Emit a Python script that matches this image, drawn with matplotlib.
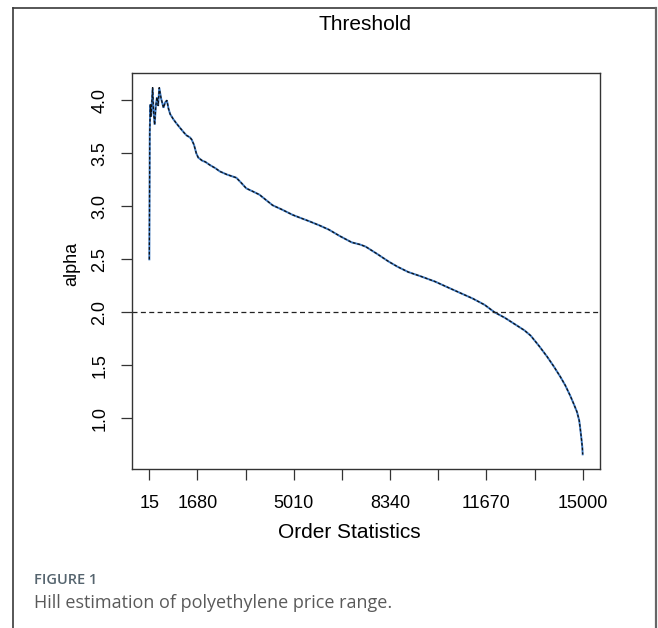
"""Hill plot (alpha vs order statistics) for the polyethylene price range."""

import matplotlib

matplotlib.use("Agg")
import matplotlib.pyplot as plt
from matplotlib.lines import Line2D

# values
order_stats = [
    15, 30, 49, 75, 130, 160, 199, 240, 279, 320, 358, 420, 506, 560, 622, 680,
    736, 850, 960, 1079, 1200, 1300, 1422, 1480, 1560, 1640, 1707, 1850, 1950,
    2108, 2300, 2451, 2700, 3024, 3200, 3367, 3600, 3824, 4050, 4280, 4600,
    4967, 5250, 5540, 5900, 6226, 6600, 7015, 7300, 7495, 7900, 8285, 8600,
    8971, 9400, 9897, 10300, 10790, 11200, 11613, 11956, 12300, 12642, 12986,
    13202, 13500, 13775, 14000, 14232, 14400, 14575, 14700, 14804, 14880,
    14918, 14960, 14990, 15000,
]
alpha = [
    2.50, 3.70, 3.96, 3.85, 4.12, 3.90, 3.77, 3.95, 4.03, 3.95, 4.12, 4.02,
    3.93, 3.98, 4.00, 3.92, 3.87, 3.82, 3.78, 3.74, 3.70, 3.67, 3.65, 3.63,
    3.58, 3.50, 3.46, 3.43, 3.42, 3.39, 3.36, 3.33, 3.30, 3.27, 3.22, 3.17,
    3.14, 3.11, 3.06, 3.01, 2.97, 2.92, 2.89, 2.86, 2.82, 2.78, 2.72, 2.66,
    2.64, 2.62, 2.55, 2.48, 2.43, 2.38, 2.34, 2.29, 2.24, 2.18, 2.13, 2.07,
    2.00, 1.95, 1.89, 1.83, 1.78, 1.68, 1.58, 1.49, 1.39, 1.31, 1.21, 1.13,
    1.06, 0.98, 0.90, 0.80, 0.72, 0.66,
]
threshold = 2.0

x_ticks = [15, 1680, 3345, 5010, 6675, 8340, 10005, 11670, 13335, 15000]
x_tick_labels = ["15", "1680", "", "5010", "", "8340", "", "11670", "", "15000"]
y_ticks = [1.0, 1.5, 2.0, 2.5, 3.0, 3.5, 4.0]

title = "Threshold"
x_label = "Order Statistics"
y_label = "alpha"
fig_tag = "FIGURE 1"
caption = "Hill estimation of polyethylene price range."

W, H = 658, 628
R_FONT = ["Liberation Sans Narrow", "Liberation Sans", "DejaVu Sans"]
CAP_FONT = ["Open Sans", "DejaVu Sans"]


def fx(px):
    return px / W


def fy(py):
    return 1 - py / H


fig = plt.figure(figsize=(W / 100, H / 100), dpi=100)
fig.patch.set_facecolor("white")

ax = fig.add_axes([fx(132), fy(469), fx(600) - fx(132), fy(73) - fy(469)])

ax.plot(order_stats, alpha, color="#3b78c2", lw=1.4, solid_joinstyle="miter")
ax.plot(order_stats, alpha, color="#111111", lw=0.9, linestyle=(0, (2.2, 1.6)))
ax.axhline(threshold, color="#222222", lw=0.9, linestyle=(0, (4, 2.7)))

span = order_stats[-1] - order_stats[0]
ax.set_xlim(order_stats[0] - 0.04 * span, order_stats[-1] + 0.04 * span)
yspan = max(alpha) - min(alpha)
ax.set_ylim(min(alpha) - 0.04 * yspan, max(alpha) + 0.04 * yspan)

ax.set_xticks(x_ticks)
ax.set_xticklabels(x_tick_labels, family=R_FONT, fontsize=13)
ax.set_yticks(y_ticks)
ax.set_yticklabels([f"{v:.1f}" for v in y_ticks], family=R_FONT, fontsize=13,
                   rotation=90, va="center")
ax.tick_params(axis="x", direction="out", length=8, width=0.9,
               color="#333333", pad=11)
ax.tick_params(axis="y", direction="out", length=8, width=0.9,
               color="#333333", pad=9)

for spine in ax.spines.values():
    spine.set_color("#333333")
    spine.set_linewidth(1.0)

fig.text(fx(365), fy(25), title, family=R_FONT, fontsize=15,
         ha="center", va="center")
fig.text(fx(349), fy(532), x_label, family=R_FONT, fontsize=15,
         ha="center", va="center")
fig.text(fx(72), fy(264), y_label, family=R_FONT, fontsize=13,
         ha="center", va="center", rotation=90)

fig.text(fx(34), fy(580), fig_tag, family=CAP_FONT, fontsize=10.5,
         fontweight="semibold", color="#55646e", ha="left", va="center")
fig.text(fx(34), fy(603), caption, family=CAP_FONT, fontsize=13,
         color="#5a5a5a", ha="left", va="center")

# frame around the figure (open at the bottom, as cropped)
frame = dict(color="#3a3a3a", lw=1.2, transform=fig.transFigure)
fig.add_artist(Line2D([fx(13), fx(13)], [fy(8), 0], **frame))
fig.add_artist(Line2D([fx(13), fx(656)], [fy(8), fy(8)], **frame))
fig.add_artist(Line2D([fx(656), fx(656)], [fy(8), 0], color="#666666", lw=1.6,
                      transform=fig.transFigure))

fig.savefig("out.png", dpi=100)
plt.close(fig)
